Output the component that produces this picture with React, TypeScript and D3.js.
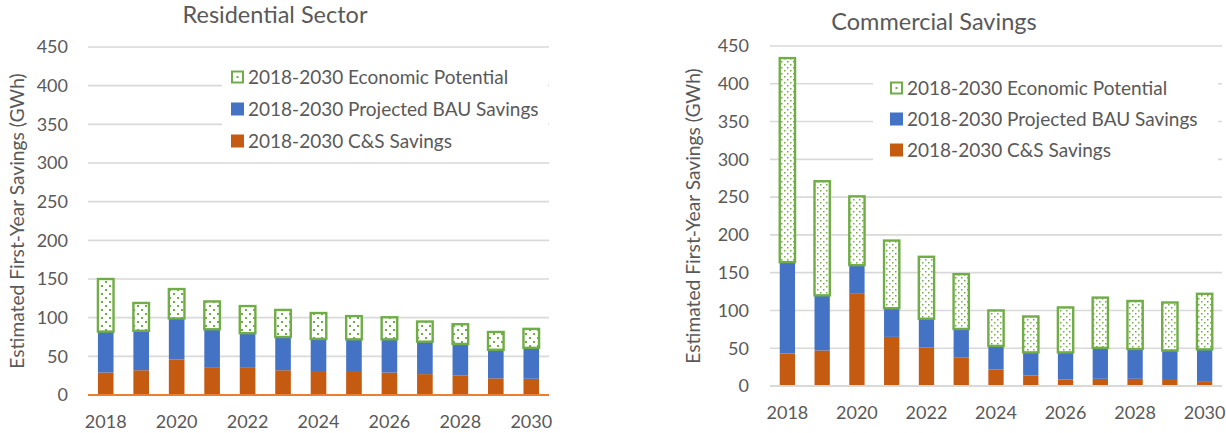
import React from 'react';
import * as d3 from 'd3';

const years = [2018, 2019, 2020, 2021, 2022, 2023, 2024, 2025, 2026, 2027, 2028, 2029, 2030];
const xTickYears = [2018, 2020, 2022, 2024, 2026, 2028, 2030];
const yTicks = [0, 50, 100, 150, 200, 250, 300, 350, 400, 450];

const seriesNames = [
  '2018-2030 Economic Potential',
  '2018-2030 Projected BAU Savings',
  '2018-2030 C&S Savings',
];

// Residential sector (segment values, GWh)
const resCS = [29, 32, 46, 36, 36, 32, 31, 31, 29, 27, 25, 21.5, 21];
const resBAU = [53, 51, 53, 49, 44, 43, 41.5, 41, 43, 42, 41, 37, 40];
const resEP = [68, 36, 38, 36, 35, 35, 33.5, 30, 28.5, 26, 25.5, 23, 24.5];

// Commercial savings (segment values, GWh)
const comCS = [43, 47, 122, 65, 51, 38, 22, 14, 8.5, 9.5, 9.5, 8, 5.5];
const comBAU = [121, 73, 38, 38, 38, 37.5, 31, 30.5, 36, 41, 39.5, 39, 43];
const comEP = [270, 151, 91, 89.5, 82, 72.5, 47, 47.5, 59.5, 66.5, 63.5, 63.5, 73.5];

const FONT = "Lato, 'Open Sans', sans-serif";
const TEXT = '#595959';
const GRID = '#D9D9D9';
const ORANGE = '#C55A11';
const BLUE = '#4472C4';
const GREEN = '#70AD47';

type Cfg = {
  id: string;
  title: string;
  titleX: number;
  titleY: number;
  x0: number;
  x1: number;
  yTop: number;
  yZero: number;
  labelRight: number;
  xLabelY: number;
  axisTitleX: number;
  axisTitleY: number;
  zeroColor: string;
  legend: { x0: number; x1: number; y0: number; y1: number; sqX: number; rows: number[] };
  dot: number;
  dotSize: number;
  cs: number[];
  bau: number[];
  ep: number[];
};

function Chart({ c }: { c: Cfg }) {
  const table = years.map((yr, i) => ({ year: yr, cs: c.cs[i], bau: c.bau[i], ep: c.ep[i] }));
  const stack = d3.stack<any>().keys(['cs', 'bau', 'ep'])(table);
  const x = d3.scaleBand<number>().domain(years).range([c.x0, c.x1]).paddingInner(0.56).paddingOuter(0.28);
  const y = d3.scaleLinear().domain([0, 450]).range([c.yZero, c.yTop]);
  const fills: Record<string, string> = { cs: ORANGE, bau: BLUE, ep: `url(#dots-${c.id})` };
  const legendFill = ['#fff', BLUE, ORANGE];
  return (
    <g>
      <defs>
        <pattern id={`dots-${c.id}`} width={c.dot} height={c.dot} patternUnits="userSpaceOnUse">
          <rect width={c.dot} height={c.dot} fill="#fff" />
          <rect x={1} y={1} width={c.dotSize} height={c.dotSize} fill={GREEN} />
          <rect x={1 + c.dot / 2} y={1 + c.dot / 2} width={c.dotSize} height={c.dotSize} fill={GREEN} />
        </pattern>
      </defs>
      {/* gridlines */}
      {yTicks.slice(1).map((t) => (
        <line key={t} x1={c.x0} x2={c.x1} y1={y(t)} y2={y(t)} stroke={GRID} strokeWidth={1.6} />
      ))}
      {/* y tick labels */}
      {yTicks.map((t) => (
        <text key={t} x={c.labelRight} y={y(t)} dy="0.35em" textAnchor="end" fontSize={18} fill={TEXT} fontFamily={FONT}>
          {t}
        </text>
      ))}
      {/* legend background */}
      <rect x={c.legend.x0} y={c.legend.y0} width={c.legend.x1 - c.legend.x0} height={c.legend.y1 - c.legend.y0} fill="#fff" />
      {/* bars */}
      {stack.map((s) => (
        <g key={s.key}>
          {s.map((d: any, i: number) => {
            const bx = x(years[i])!;
            const w = x.bandwidth();
            const top = y(d[1]);
            const h = y(d[0]) - y(d[1]);
            if (s.key === 'ep') {
              return (
                <rect key={i} x={bx} y={top} width={w} height={h} fill={fills.ep} stroke={GREEN} strokeWidth={2.4} />
              );
            }
            return <rect key={i} x={bx} y={top} width={w} height={h} fill={fills[s.key]} />;
          })}
        </g>
      ))}
      {/* zero axis */}
      <line x1={c.x0} x2={c.x1} y1={y(0)} y2={y(0)} stroke={c.zeroColor} strokeWidth={2} />
      {/* x labels */}
      {xTickYears.map((yr) => (
        <text key={yr} x={x(yr)! + x.bandwidth() / 2} y={c.xLabelY} dy="0.35em" textAnchor="middle" fontSize={18} fill={TEXT} fontFamily={FONT}>
          {yr}
        </text>
      ))}
      {/* title */}
      <text x={c.titleX} y={c.titleY} dy="0.35em" textAnchor="middle" fontSize={23.5} fill={TEXT} fontFamily={FONT}>
        {c.title}
      </text>
      {/* axis title */}
      <text
        transform={`translate(${c.axisTitleX},${c.axisTitleY}) rotate(-90)`}
        dy="0.35em"
        textAnchor="middle"
        fontSize={19.2}
        fill={TEXT}
        fontFamily={FONT}
      >
        Estimated First-Year Savings (GWh)
      </text>
      {/* legend */}
      {seriesNames.map((name, i) => {
        const cy = c.legend.rows[i];
        return (
          <g key={name}>
            {i === 0 ? (
              <g>
                <rect x={c.legend.sqX + 1} y={cy - 5.5} width={11} height={11} fill={legendFill[0]} stroke={GREEN} strokeWidth={2} />
                <rect x={c.legend.sqX + 5.5} y={cy - 1} width={2} height={2} fill={GREEN} />
              </g>
            ) : (
              <rect x={c.legend.sqX} y={cy - 6.5} width={13} height={13} fill={legendFill[i]} />
            )}
            <text x={c.legend.sqX + 17} y={cy} dy="0.35em" fontSize={19} fill={TEXT} fontFamily={FONT}>
              {name}
            </text>
          </g>
        );
      })}
    </g>
  );
}

const residential: Cfg = {
  id: 'res',
  title: 'Residential Sector',
  titleX: 275,
  titleY: 15,
  x0: 88,
  x1: 549,
  yTop: 47,
  yZero: 395,
  labelRight: 68,
  xLabelY: 422,
  axisTitleX: 17,
  axisTitleY: 221,
  zeroColor: '#ED7D31',
  legend: { x0: 222, x1: 548, y0: 62, y1: 156, sqX: 231, rows: [77, 109, 141] },
  dot: 8,
  dotSize: 2,
  cs: resCS,
  bau: resBAU,
  ep: resEP,
};

const commercial: Cfg = {
  id: 'com',
  title: 'Commercial Savings',
  titleX: 934,
  titleY: 22,
  x0: 770,
  x1: 1222,
  yTop: 46,
  yZero: 386,
  labelRight: 749,
  xLabelY: 413,
  axisTitleX: 693,
  axisTitleY: 216,
  zeroColor: GRID,
  legend: { x0: 873, x1: 1218, y0: 72, y1: 165, sqX: 890, rows: [88, 119, 150] },
  dot: 6,
  dotSize: 1.5,
  cs: comCS,
  bau: comBAU,
  ep: comEP,
};

export default function App() {
  return (
    <svg
      width={1226}
      height={433}
      style={{ position: 'absolute', left: 0, top: 0, background: '#fff' }}
    >
      <rect width={1226} height={433} fill="#fff" />
      <Chart c={residential} />
      <Chart c={commercial} />
    </svg>
  );
}
